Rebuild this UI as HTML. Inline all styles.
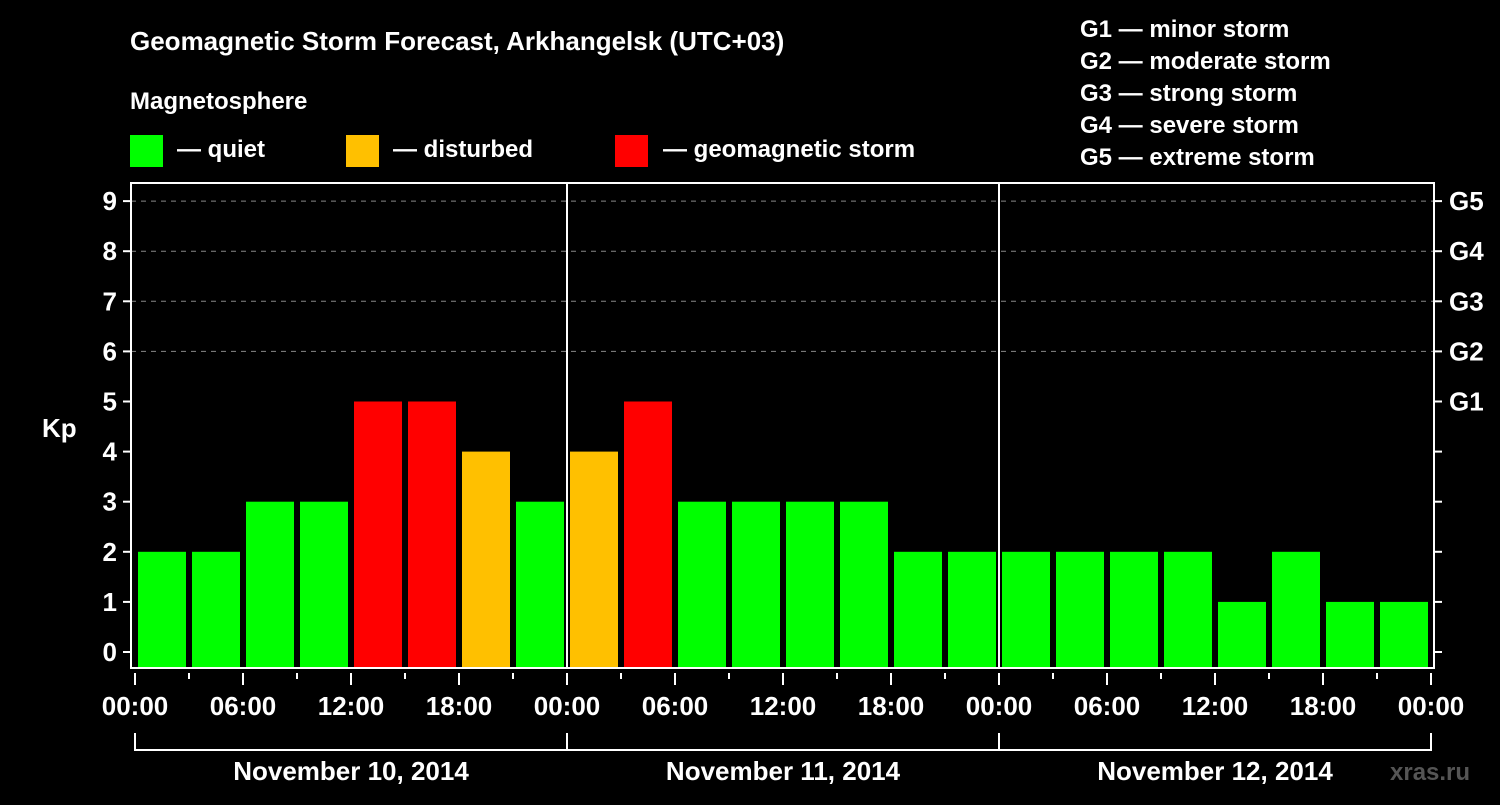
<!DOCTYPE html>
<html><head><meta charset="utf-8"><style>
body{margin:0;background:#000;width:1500px;height:800px;overflow:hidden}
svg text{font-family:"Liberation Sans",sans-serif;font-weight:bold;fill:#fff}
</style></head><body>
<svg id="c" width="1500" height="800">
<text x="130" y="50" font-size="26">Geomagnetic Storm Forecast, Arkhangelsk (UTC+03)</text>
<text x="130" y="109" font-size="24">Magnetosphere</text>
<rect x="130" y="135" width="33" height="32" fill="#00ff00"/>
<text x="177" y="157" font-size="24">— quiet</text>
<rect x="346" y="135" width="33" height="32" fill="#ffc000"/>
<text x="393" y="157" font-size="24">— disturbed</text>
<rect x="615" y="135" width="33" height="32" fill="#ff0000"/>
<text x="663" y="157" font-size="24">— geomagnetic storm</text>
<g font-size="24">
<text x="1080" y="37">G1 — minor storm</text>
<text x="1080" y="69">G2 — moderate storm</text>
<text x="1080" y="101">G3 — strong storm</text>
<text x="1080" y="133">G4 — severe storm</text>
<text x="1080" y="165">G5 — extreme storm</text>
</g>
<text x="42" y="437" font-size="26">Kp</text>
<text x="1390" y="780" font-size="24" fill="#666" style="fill:#555">xras.ru</text>
<g id="plot"></g>
</svg>
<script>
const values=[2,2,3,3,5,5,4,3, 4,5,3,3,3,3,2,2, 2,2,2,2,1,2,1,1];
const days=["November 10, 2014","November 11, 2014","November 12, 2014"];
const hourLabels=["00:00","06:00","12:00","18:00"];
const yTicks=[0,1,2,3,4,5,6,7,8,9];
const gLabels=["G1","G2","G3","G4","G5"];
const NS="http://www.w3.org/2000/svg";
const g=document.getElementById('plot');
const X0=135,HPX=18,Y0=652,KPX=50.1,L=131,R=1434,T=183,B=668;
const x=h=>X0+h*HPX, y=k=>Y0-k*KPX;
function mk(t,a){const e=document.createElementNS(NS,t);for(const k in a)e.setAttribute(k,a[k]);g.appendChild(e);return e;}
// grid
for(let k=6;k<=9;k++){const e=mk('line',{x1:L,x2:R,y1:y(k),y2:y(k),stroke:'#888','stroke-dasharray':'5,5','stroke-width':1});

}
// bars
values.forEach((v,i)=>{const c=v>=5?'#ff0000':v>=4?'#ffc000':'#00ff00';
const e=mk('rect',{x:x(i*3)+3,y:y(v),width:48,height:B-y(v),fill:c});

});
// day separators
for(let d=1;d<days.length;d++){const e=mk('line',{x1:x(d*24),x2:x(d*24),y1:T,y2:B,stroke:'#fff','stroke-width':2});

}
// frame
const f=mk('rect',{x:L,y:T,width:R-L,height:B-T,fill:'none',stroke:'#fff','stroke-width':2});


// y ticks
yTicks.forEach(k=>{
mk('line',{x1:L-8,x2:L,y1:y(k),y2:y(k),stroke:'#fff','stroke-width':2});
mk('line',{x1:R,x2:R+8,y1:y(k),y2:y(k),stroke:'#fff','stroke-width':2});
const t=mk('text',{x:L-14,y:y(k)+9,'text-anchor':'end','font-size':26});t.textContent=k;

});
gLabels.forEach((s,i)=>{const t=mk('text',{x:R+15,y:y(5+i)+9,'font-size':26});t.textContent=s;

});
// x ticks
for(let h=0;h<=days.length*24;h+=3){const maj=h%6==0;
mk('line',{x1:x(h),x2:x(h),y1:B+5,y2:maj?B+17:B+11,stroke:'#fff','stroke-width':2});
if(maj){const t=mk('text',{x:x(h),y:715,'text-anchor':'middle','font-size':26});t.textContent=hourLabels[(h%24)/6];

}}
// day brackets
days.forEach((d,i)=>{const a=x(i*24),b=x((i+1)*24);
mk('path',{d:`M${a},733V750H${b}V733`,stroke:'#fff','stroke-width':2,fill:'none'});
const t=mk('text',{x:(a+b)/2,y:780,'text-anchor':'middle','font-size':26});t.textContent=d;

});
</script>
</body></html>
